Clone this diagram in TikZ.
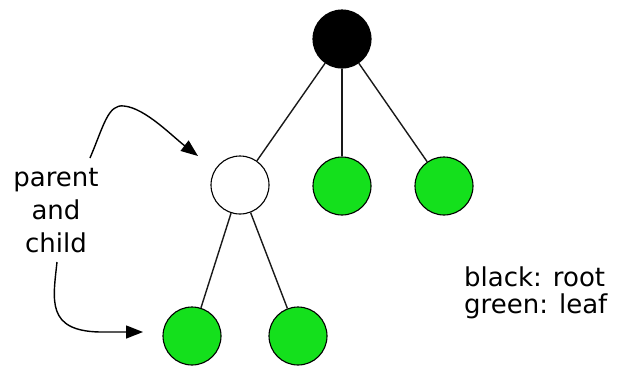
\documentclass[tikz,border=0pt]{standalone}
\usepackage{fontspec}
\setmainfont{DejaVu Sans}
\usetikzlibrary{arrows.meta}
\definecolor{leafgreen}{RGB}{20,224,28}
\tikzset{
  treenode/.style={circle, draw=black, line width=1.1pt, minimum size=58pt, inner sep=0pt},
  rootnode/.style={treenode, fill=black},
  leafnode/.style={treenode, fill=leafgreen},
  innernode/.style={treenode, fill=white},
  edge/.style={line width=1.4pt, draw=black!90},
  pointer/.style={line width=1.4pt, -{Triangle[length=17pt,width=13pt]}},
  txt/.style={inner sep=0pt, font=\fontsize{26}{33}\selectfont}
}
\begin{document}
\begin{tikzpicture}[x=1pt,y=-1pt]
\useasboundingbox (0,0) rectangle (620,367);
\node[rootnode] (root) at (342,39) {};
\node[innernode] (par) at (240,185) {};
\node[leafnode] (m) at (342,186) {};
\node[leafnode] (r) at (444,186) {};
\node[leafnode] (c1) at (192,336) {};
\node[leafnode] (c2) at (298,336) {};
\draw[edge] (root) -- (par);
\draw[edge] (root) -- (m);
\draw[edge] (root) -- (r);
\draw[edge] (par) -- (c1);
\draw[edge] (par) -- (c2);
\node[txt, align=center, anchor=north] (label) at (56,168) {parent\\and\\child};
\node[txt, align=left, anchor=north west, font=\fontsize{26}{27}\selectfont] (legend) at (464,267) {black: root\\green: leaf};
\coordinate (u1) at (90,158);
\coordinate (u2) at (198,156);
\coordinate (l1) at (57,262);
\coordinate (l2) at (143,332);
\draw[pointer] (u1) .. controls (104,125) and (108,104) .. (124,106) .. controls (145,108) and (172,136) .. (u2);
\draw[pointer] (l1) .. controls (53,300) and (46,331) .. (100,332) -- (l2);
\end{tikzpicture}
\end{document}
